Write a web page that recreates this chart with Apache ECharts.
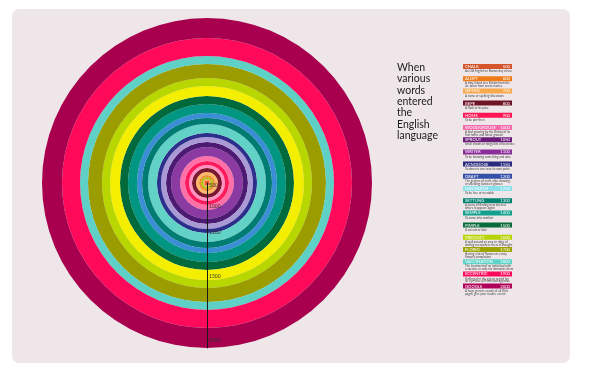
<!DOCTYPE html>
<html><head><meta charset="utf-8">
<script src="https://cdn.jsdelivr.net/npm/echarts@6/dist/echarts.min.js"></script>
<style>html,body{margin:0;padding:0;background:#fff}#c{width:600px;height:375px}</style>
</head><body><div id="c"></div>
<script>
// Rings, listed from the outermost to the innermost (outer edge of each ring)
const ringColors = ['#a8004f','#ff0a5a','#5ed0c6','#9a9c00','#b8d600','#f4ef00','#006a3c','#009682','#3a8ed6','#007c72','#62d2c6','#2c2f8c','#a99ad6','#4c1a72','#8a3aa0','#ff6fa8','#ff1c5c','#ff92c2','#7a1830','#ffb86a','#f08a30','#a8c800','#ffa060','#e05a2a'];
const ringOuter = [165,145,127,119,105,97,87,79,70,65,59,50,46,41,36,27,22,18,15,11,8,6,4,2.5];

// Year marks along the radial line
const yearTickValues = [2,23,49,93,157];
const yearTickLabels = ['500','1000','1200','1500','2000'];

// Word list
const words = ['CHALK','ALOFT','GIFTED','BEPE','HOME','WOODGROUSE','SPROUT','WRITER','ACNODOSE','DRAFT','LEECHDOM','SETTLING','SEMPLE','PIMPLE','PRECINCT','FLORID','VACCINATION','ECCENTRIC','GOOGLE'];
const wordYears = ['500','600','700','800','900','1000','1050','1100','1150','1200','1250','1300','1400','1500','1600','1700','1800','1900','2000'];
const wordColors = ['#d4542c','#f07a18','#f7a94e','#6e1426','#ff1556','#f26aa9','#6c1b7a','#8a2d99','#2a2a7e','#3550a8','#8be0ea','#008272','#13a08e','#0a6b3a','#b8d400','#9ba400','#5cd3c8','#ff0a5a','#b1005a'];
const wordNotes = [
 'An Old English or Roman day of use',
 'A time linked to a Britain from the\nair, taken from ocean stories',
 'A name or spelling it bestows',
 'A flash or its pose',
 'To be pro-then',
 'A bird growing by the Britain of its\nfirst home and forest ground',
 'Small shoots or twigs bits of branches',
 'To be knowing something and wise',
 'To observe one near its own point',
 'The gesture of craft, after drawing,\nor shielding between glasses',
 'To be free or treatable',
 'A scene of finding new interest\nwhere it appears again',
 'To come into comfort',
 'A scream or blot',
 'A wall around an area or ridge of\nwriting everywhere there is thought',
 'Having a lot of flowers or a rosy\nflowery complexion',
 'The treatment of an individual with\na vaccine, in order to immunize them',
 'Unhinged in the ago or regard for\nan eye-case self-oriented agendas',
 'A huge generic search of all Web\npages, give your results, a term'
];
const titleLines = ['When','various','words','entered','the','English','language'];

const FONT = 'Lato, "Open Sans", sans-serif';
const chart = echarts.init(document.getElementById('c'), null, {renderer:'canvas'});

// stacked from the centre outwards: each ring's thickness = its outer edge minus the next inner edge
const n = ringOuter.length;
const series = [];
for (let k = n - 1; k >= 0; k--) {
  const inner = k + 1 < n ? ringOuter[k + 1] : 0;
  series.push({
    type:'bar', coordinateSystem:'polar', name:'ring'+k, stack:'rings',
    data:[ringOuter[k] - inner], barWidth:'100%',
    itemStyle:{color:ringColors[k]}, silent:true, animation:false
  });
}

const graphics = [{
  type:'rect', z:-10, silent:true,
  shape:{x:12, y:9, width:558, height:354, r:7},
  style:{fill:'#eee6e8'}
},{
  type:'text', left:397, top:62, z:5,
  style:{text:titleLines.join('\n'), fontSize:10.5, lineHeight:11.3, fill:'#222', fontFamily:FONT}
}];
words.forEach((w,i)=>{
  const y = 64 + i*12.2;
  graphics.push({type:'rect', z:5, shape:{x:463, y:y, width:49, height:5}, style:{fill:wordColors[i]}});
  graphics.push({type:'text', z:6, x:465, y:y+2.6, style:{text:w, fontSize:4.2, fill:'#fff', verticalAlign:'middle', fontFamily:FONT}});
  graphics.push({type:'text', z:6, x:510, y:y+2.6, style:{text:wordYears[i], fontSize:4.2, fill:'#fff', align:'right', verticalAlign:'middle', fontFamily:FONT}});
  graphics.push({type:'text', z:6, x:465, y:y+5.8, style:{text:wordNotes[i], fontSize:3, lineHeight:2.8, fill:'#444', verticalAlign:'top', fontFamily:FONT}});
});

chart.setOption({
  animation:false,
  backgroundColor:'#ffffff',
  polar:{center:[207,183], radius:[0,165]},
  angleAxis:{type:'category', data:['all'], startAngle:270, show:false},
  radiusAxis:{
    type:'value', min:0, max:165, z:50,
    axisLine:{show:true, lineStyle:{color:'#1a1a1a', width:1}},
    axisTick:{show:false},
    splitLine:{show:false},
    axisLabel:{
      inside:true,
      customValues: yearTickValues,
      formatter: v => { const k = yearTickValues.indexOf(v); return k >= 0 ? yearTickLabels[k] : ''; },
      fontSize:5, color:'#333', margin:2, fontFamily:FONT
    }
  },
  series: series,
  graphic: graphics
});
</script></body></html>
